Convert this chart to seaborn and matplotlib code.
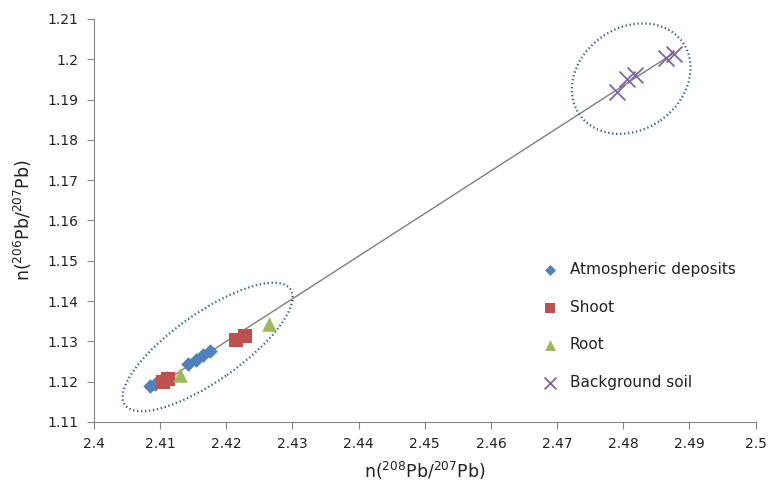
import numpy as np
import pandas as pd
import matplotlib
matplotlib.use("Agg")
import matplotlib.pyplot as plt
import matplotlib.transforms as mtransforms
from matplotlib.patches import Ellipse
import seaborn as sns

# ---- data ----
atm_x = [2.4085, 2.4092, 2.4100, 2.4110, 2.4143, 2.4155, 2.4165, 2.4175]
atm_y = [1.1190, 1.1195, 1.1202, 1.1210, 1.1245, 1.1255, 1.1266, 1.1276]
shoot_x = [2.4105, 2.4112, 2.4215, 2.4228]
shoot_y = [1.1200, 1.1206, 1.1304, 1.1314]
root_x = [2.4130, 2.4265]
root_y = [1.1217, 1.1344]
soil_x = [2.4790, 2.4806, 2.4817, 2.4864, 2.4877]
soil_y = [1.1918, 1.1952, 1.1960, 1.2003, 1.2013]

labels = ["Atmospheric deposits", "Shoot", "Root", "Background soil"]
x_ticks = [2.40, 2.41, 2.42, 2.43, 2.44, 2.45, 2.46, 2.47, 2.48, 2.49, 2.50]
x_tick_labels = ["2.4", "2.41", "2.42", "2.43", "2.44", "2.45", "2.46", "2.47", "2.48", "2.49", "2.5"]
y_ticks = [1.11, 1.12, 1.13, 1.14, 1.15, 1.16, 1.17, 1.18, 1.19, 1.20, 1.21]
y_tick_labels = ["1.11", "1.12", "1.13", "1.14", "1.15", "1.16", "1.17", "1.18", "1.19", "1.2", "1.21"]

df = pd.concat([
    pd.DataFrame({"x": atm_x, "y": atm_y, "group": labels[0]}),
    pd.DataFrame({"x": shoot_x, "y": shoot_y, "group": labels[1]}),
    pd.DataFrame({"x": root_x, "y": root_y, "group": labels[2]}),
    pd.DataFrame({"x": soil_x, "y": soil_y, "group": labels[3]}),
], ignore_index=True)

sns.set_style("white")
plt.rcParams["font.family"] = ["DejaVu Sans"]
plt.rcParams["mathtext.default"] = "regular"

fig = plt.figure(figsize=(7.75, 4.87), dpi=100)
ax = fig.add_axes([0.121, 0.1335, 0.854, 0.8275])

# trend line (linear fit through all points)
coef = np.polyfit(df["x"], df["y"], 1)
lx = np.array([df["x"].min(), df["x"].max()])
ax.plot(lx, np.polyval(coef, lx), color="#7f7f7f", lw=1.0, zorder=1)

styles = {
    labels[0]: dict(marker="D", color="#4F81BD", s=55),
    labels[1]: dict(marker="s", color="#C0504D", s=100),
    labels[2]: dict(marker="^", color="#9BBB59", s=110),
    labels[3]: dict(marker="x", color="#8064A2", s=130),
}
for g in labels:
    sub = df[df["group"] == g]
    st = styles[g]
    if st["marker"] == "x":
        sns.scatterplot(data=sub, x="x", y="y", ax=ax, marker="x", color=st["color"],
                        s=st["s"], linewidth=1.3, label=g, zorder=3)
    else:
        sns.scatterplot(data=sub, x="x", y="y", ax=ax, marker=st["marker"], color=st["color"],
                        s=st["s"], linewidth=0, label=g, zorder=3)

# dotted ellipses (sizes in inches at fig dpi)
def draw_ellipse(cx, cy, w_in, h_in, ang):
    tr = fig.dpi_scale_trans + mtransforms.ScaledTranslation(cx, cy, ax.transData)
    e = Ellipse((0, 0), w_in, h_in, angle=ang, transform=tr, fill=False,
                edgecolor="#2E5C9A", lw=1.6, linestyle=(0, (0.6, 1.2)), zorder=2)
    ax.add_patch(e)

draw_ellipse(2.4172, 1.1286, 2.02, 0.68, 35)
draw_ellipse(2.4812, 1.1952, 1.26, 1.02, 35)

ax.set_xlim(2.40, 2.50)
ax.set_ylim(1.11, 1.21)
ax.set_xticks(x_ticks)
ax.set_xticklabels(x_tick_labels)
ax.set_yticks(y_ticks)
ax.set_yticklabels(y_tick_labels)
ax.tick_params(axis="both", which="major", labelsize=10, length=5, width=0.8,
               color="#868686", direction="out", pad=6, labelcolor="#222222")
ax.tick_params(axis="x", bottom=True)
ax.tick_params(axis="y", left=True)
for s in ["top", "right"]:
    ax.spines[s].set_visible(False)
for s in ["left", "bottom"]:
    ax.spines[s].set_color("#868686")
    ax.spines[s].set_linewidth(0.8)

ax.set_xlabel(r"n($^{208}$Pb/$^{207}$Pb)", fontsize=12.5, color="#222222", labelpad=6)
ax.set_ylabel(r"n($^{206}$Pb/$^{207}$Pb)", fontsize=12.5, color="#222222", labelpad=10)

leg = ax.legend(loc="upper left", bbox_to_anchor=(0.645, 0.432), frameon=False,
                fontsize=11, labelspacing=1.5, handletextpad=0.3, markerscale=0.75,
                labelcolor="#222222")

fig.savefig("out.png", dpi=100)
